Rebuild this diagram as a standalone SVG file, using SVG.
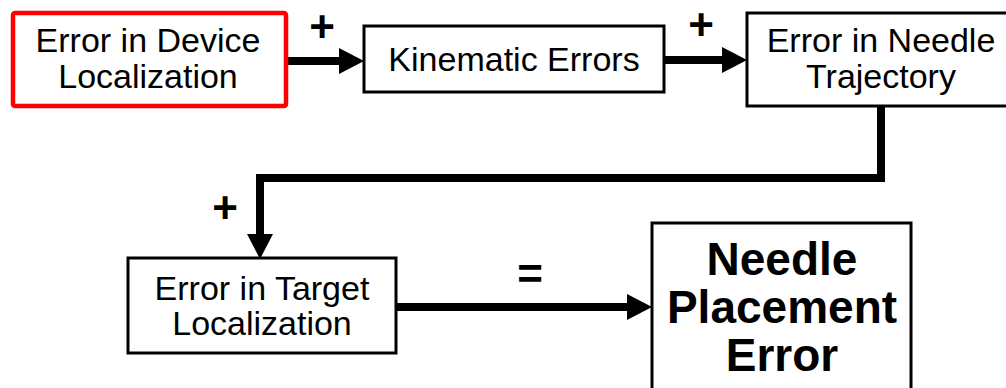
<svg xmlns="http://www.w3.org/2000/svg" width="1006" height="388" viewBox="0 0 1006 388">
<style>
.box{fill:#fff;stroke:#000;stroke-width:3}
.red{fill:#fff;stroke:#f00;stroke-width:4.5}
.t{font-family:"Liberation Sans",Arial,sans-serif;font-size:34px;fill:#000;text-anchor:middle}
.b{font-family:"Liberation Sans",Arial,sans-serif;font-size:46px;font-weight:bold;fill:#000;text-anchor:middle}
.op{font-family:"Liberation Sans",Arial,sans-serif;font-size:44px;font-weight:bold;fill:#000;text-anchor:middle}
.c{fill:none;stroke:#000;stroke-width:8;stroke-linejoin:miter}
</style>
<defs>
<marker id="ah" markerUnits="userSpaceOnUse" markerWidth="26" markerHeight="26" refX="0" refY="13" orient="auto">
<path d="M0,0 L25,13 L0,26 Z" fill="#000"/>
</marker>
</defs>
<rect width="1006" height="388" fill="#fff"/>
<g id="connectors">
<line class="c" x1="286" y1="61" x2="339" y2="61" marker-end="url(#ah)"/>
<line class="c" x1="664" y1="60" x2="722" y2="60" marker-end="url(#ah)"/>
<polyline class="c" points="881,106 881,178 260,178 260,234" marker-end="url(#ah)"/>
<line class="c" x1="396" y1="307" x2="627" y2="307" marker-end="url(#ah)"/>
<text class="op" x="322" y="42">+</text>
<text class="op" x="701" y="40">+</text>
<text class="op" x="225" y="223">+</text>
<text class="op" x="530" y="289">=</text>
</g>
<g id="device">
<rect class="red" x="13" y="13" width="273" height="93" rx="2"/>
<text class="t" x="148" y="52">Error in Device</text>
<text class="t" x="148" y="88">Localization</text>
</g>
<g id="kinematic">
<rect class="box" x="364" y="26" width="300" height="66"/>
<text class="t" x="514" y="71">Kinematic Errors</text>
</g>
<g id="trajectory">
<rect class="box" x="747" y="13" width="270" height="93"/>
<text class="t" x="881" y="52">Error in Needle</text>
<text class="t" x="881" y="88">Trajectory</text>
</g>
<g id="target">
<rect class="box" x="128" y="258" width="268" height="95"/>
<text class="t" x="262" y="300">Error in Target</text>
<text class="t" x="262" y="335">Localization</text>
</g>
<g id="placement">
<rect class="box" x="652" y="223" width="259" height="180"/>
<text class="b" x="782" y="275">Needle</text>
<text class="b" x="782" y="323">Placement</text>
<text class="b" x="782" y="371">Error</text>
</g>
</svg>
